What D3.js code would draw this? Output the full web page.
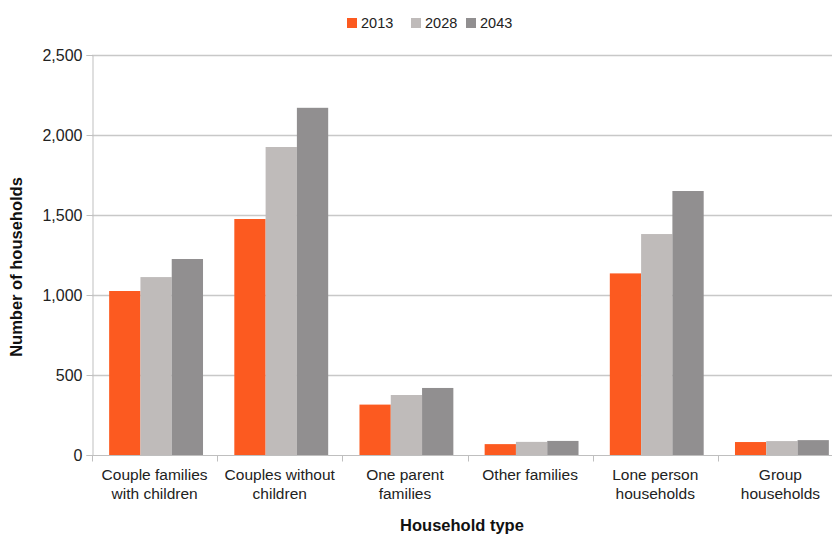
<!DOCTYPE html>
<html>
<head>
<meta charset="utf-8">
<script src="https://cdn.jsdelivr.net/npm/d3@7"></script>
<style>
  body { margin: 0; background: #fff; }
  svg { display: block; }
</style>
</head>
<body>
<div id="chart"></div>
<script>
const categories = [
  ["Couple families", "with children"],
  ["Couples without", "children"],
  ["One parent", "families"],
  ["Other families"],
  ["Lone person", "households"],
  ["Group", "households"]
];
const years = ["2013", "2028", "2043"];
const values2013 = [1025, 1475, 315, 68, 1135, 81];
const values2028 = [1112, 1925, 375, 82, 1381, 87];
const values2043 = [1225, 2170, 419, 88, 1650, 93];
const yTicks = [0, 500, 1000, 1500, 2000, 2500];
const colors = ["#fc5a20", "#bfbbba", "#918f90"];

const width = 832, height = 536;
const margin = { top: 55, left: 92, bottom: 81 };
const plotRight = 843;

const series = [values2013, values2028, values2043];
const data = categories.map((c, i) => ({
  key: i,
  label: c,
  vals: years.map((y, j) => ({ year: y, value: series[j][i], color: colors[j] }))
}));

const svg = d3.select("#chart").append("svg")
  .attr("width", width)
  .attr("height", height);

const x = d3.scaleBand()
  .domain(data.map(d => d.key))
  .range([margin.left, plotRight])
  .paddingInner(0)
  .paddingOuter(0);

const x1 = d3.scaleBand()
  .domain(years)
  .range([0, x.bandwidth()])
  .paddingOuter(0.5)
  .paddingInner(0);

const y = d3.scaleLinear()
  .domain([0, 2500])
  .range([height - margin.bottom, margin.top]);

// gridlines
svg.append("g")
  .selectAll("line")
  .data(yTicks.filter(t => t > 0))
  .join("line")
  .attr("x1", margin.left)
  .attr("x2", plotRight)
  .attr("y1", d => y(d) + 0.5)
  .attr("y2", d => y(d) + 0.5)
  .attr("stroke", "#c8c8c8")
  .attr("stroke-width", 1.3);

// bars
const groups = svg.append("g")
  .selectAll("g")
  .data(data)
  .join("g")
  .attr("transform", d => `translate(${x(d.key) + 1.5},0)`);

groups.selectAll("rect")
  .data(d => d.vals)
  .join("rect")
  .attr("x", d => x1(d.year))
  .attr("width", x1.bandwidth())
  .attr("y", d => y(d.value))
  .attr("height", d => y(0) - y(d.value))
  .attr("fill", d => d.color);

// y axis
const yAxis = svg.append("g")
  .attr("transform", `translate(${margin.left + 0.5},0)`)
  .call(d3.axisLeft(y).tickValues(yTicks).tickSize(6).tickPadding(4).tickFormat(d3.format(",")));
yAxis.select(".domain").attr("stroke", "#bfbfbf");
yAxis.selectAll(".tick line").attr("stroke", "#bfbfbf");
yAxis.selectAll(".tick text")
  .attr("fill", "#222")
  .style("font-family", "'Liberation Sans', Arial, sans-serif")
  .style("font-size", "16px");

// x axis
const xAxis = svg.append("g")
  .attr("transform", `translate(0,${y(0) + 0.5})`);
xAxis.append("line")
  .attr("x1", margin.left)
  .attr("x2", plotRight)
  .attr("stroke", "#bfbfbf");
xAxis.selectAll("line.tk")
  .data(d3.range(categories.length + 1))
  .join("line")
  .attr("class", "tk")
  .attr("x1", i => Math.round(margin.left + i * x.bandwidth()) + 0.5)
  .attr("x2", i => Math.round(margin.left + i * x.bandwidth()) + 0.5)
  .attr("y1", 0)
  .attr("y2", 6)
  .attr("stroke", "#bfbfbf");

const labels = xAxis.selectAll("text.cat")
  .data(data)
  .join("text")
  .attr("class", "cat")
  .attr("text-anchor", "middle")
  .attr("fill", "#222")
  .style("font-family", "'Liberation Sans', Arial, sans-serif")
  .style("font-size", "15.5px")
  .attr("transform", d => `translate(${x(d.key) + x.bandwidth() / 2},0)`);
labels.selectAll("tspan")
  .data(d => d.label)
  .join("tspan")
  .attr("x", 0)
  .attr("y", (d, i) => 24 + i * 19)
  .text(d => d);

// axis titles
svg.append("text")
  .attr("transform", `translate(22,267) rotate(-90)`)
  .attr("text-anchor", "middle")
  .style("font-family", "'Liberation Sans', Arial, sans-serif")
  .style("font-size", "16.5px")
  .style("font-weight", "bold")
  .attr("fill", "#111")
  .text("Number of households");

svg.append("text")
  .attr("x", 462)
  .attr("y", 531)
  .attr("text-anchor", "middle")
  .style("font-family", "'Liberation Sans', Arial, sans-serif")
  .style("font-size", "16.5px")
  .style("font-weight", "bold")
  .attr("fill", "#111")
  .text("Household type");

// legend
const legendX = [347, 411, 466];
const legend = svg.append("g")
  .selectAll("g")
  .data(years)
  .join("g")
  .attr("transform", (d, i) => `translate(${legendX[i]},18)`);
legend.append("rect")
  .attr("width", 10)
  .attr("height", 10)
  .attr("fill", (d, i) => colors[i]);
legend.append("text")
  .attr("x", 14)
  .attr("y", 10)
  .attr("fill", "#222")
  .style("font-family", "'Liberation Sans', Arial, sans-serif")
  .style("font-size", "14.5px")
  .text(d => d);
</script>
</body>
</html>
